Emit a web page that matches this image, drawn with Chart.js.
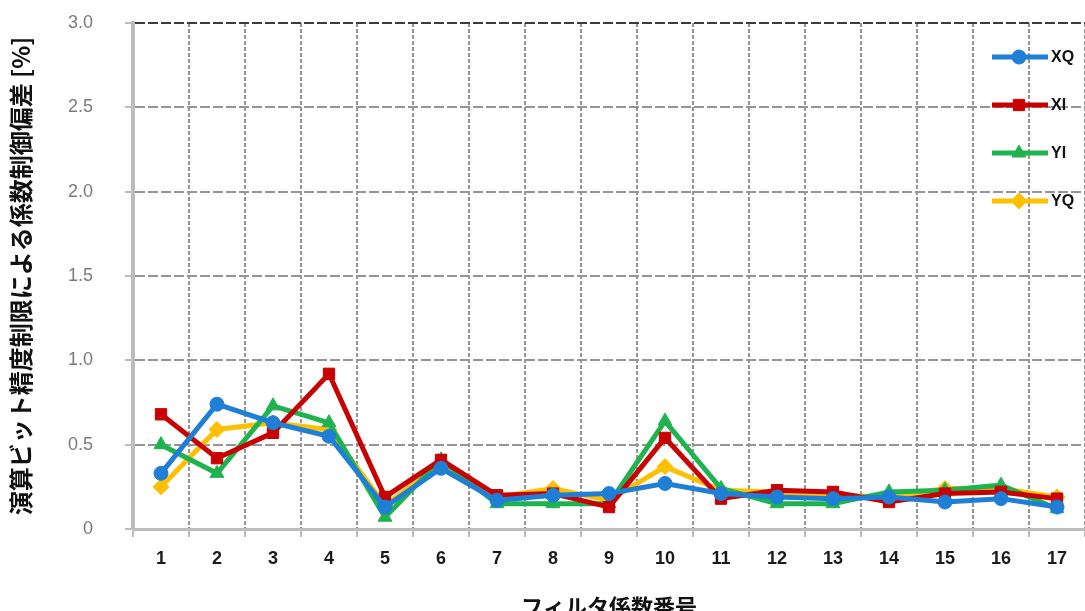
<!DOCTYPE html>
<html>
<head>
<meta charset="utf-8">
<script src="https://cdn.jsdelivr.net/npm/chart.js@4/dist/chart.umd.min.js"></script>
<style>
  html, body { margin: 0; padding: 0; background: #fff; overflow: hidden; }
  #caixa { width: 1085px; height: 620px; }
</style>
</head>
<body>
<div id="caixa"><canvas id="grafico"></canvas></div>
<script>
// rótulos do eixo x (número do coeficiente)
var rotulos = ['1', '2', '3', '4', '5', '6', '7', '8', '9', '10', '11', '12', '13', '14', '15', '16', '17'];

// valores (%)
var dadosXQ = [0.33, 0.74, 0.63, 0.55, 0.13, 0.36, 0.17, 0.20, 0.21, 0.27, 0.21, 0.19, 0.18, 0.19, 0.16, 0.18, 0.13];
var dadosXI = [0.68, 0.42, 0.57, 0.92, 0.19, 0.41, 0.20, 0.21, 0.13, 0.54, 0.18, 0.23, 0.22, 0.16, 0.21, 0.22, 0.18];
var dadosYI = [0.50, 0.33, 0.73, 0.63, 0.07, 0.41, 0.15, 0.15, 0.15, 0.64, 0.24, 0.15, 0.15, 0.22, 0.23, 0.26, 0.12];
var dadosYQ = [0.25, 0.59, 0.63, 0.59, 0.14, 0.39, 0.19, 0.24, 0.17, 0.37, 0.23, 0.22, 0.20, 0.19, 0.24, 0.24, 0.19];

var tituloY = '演算ビット精度制限による係数制御偏差 [%]';
var tituloX = 'フィルタ係数番号';

var fonteJP = '"Noto Sans CJK JP", "Noto Sans", sans-serif';
var fonteNum = '"Liberation Sans", Arial, sans-serif';

function serie(nome, dados, cor, estilo, raio) {
    return {
        label: nome,
        data: dados,
        borderColor: cor,
        backgroundColor: cor,
        borderWidth: 5,
        pointStyle: estilo,
        pointRadius: raio,
        pointHoverRadius: raio,
        pointBorderWidth: 1,
        tension: 0,
        fill: false
    };
}

// legenda desenhada dentro da área do gráfico, no canto superior direito
var legendaInterna = {
    id: 'legendaInterna',
    afterDatasetsDraw: function (chart) {
        var ctx = chart.ctx;
        var area = chart.chartArea;
        var x0 = area.right - 93;
        var y0 = area.top + 34;
        chart.data.datasets.forEach(function (ds, i) {
            var y = y0 + i * 48;
            ctx.save();
            ctx.strokeStyle = ds.borderColor;
            ctx.lineWidth = 5;
            ctx.beginPath();
            ctx.moveTo(x0, y);
            ctx.lineTo(x0 + 56, y);
            ctx.stroke();
            ctx.fillStyle = ds.backgroundColor;
            ctx.strokeStyle = ds.borderColor;
            ctx.lineWidth = 1;
            if (Chart.helpers && Chart.helpers.drawPoint) {
                Chart.helpers.drawPoint(ctx, { pointStyle: ds.pointStyle, radius: ds.pointRadius, rotation: 0, borderWidth: 1 }, x0 + 27, y);
            }
            ctx.fillStyle = '#111';
            ctx.font = 'bold 16px ' + fonteNum;
            ctx.textBaseline = 'middle';
            ctx.textAlign = 'left';
            ctx.fillText(ds.label, x0 + 59, y + 1);
            ctx.restore();
        });
    }
};

var ctx1 = document.getElementById('grafico').getContext('2d');

var grafico = new Chart(ctx1, {
    type: 'line',
    data: {
        labels: rotulos,
        datasets: [
            serie('XQ', dadosXQ, '#1f7fd6', 'circle', 7),
            serie('XI', dadosXI, '#c80000', 'rect', 8),
            serie('YI', dadosYI, '#1fb34f', 'triangle', 8),
            serie('YQ', dadosYQ, '#ffc000', 'rectRot', 8)
        ]
    },
    options: {
        responsive: true,
        maintainAspectRatio: false,
        animation: false,
        layout: { autoPadding: false, padding: { top: 23, right: 0, left: 0, bottom: 0 } },
        plugins: {
            legend: { display: false },
            tooltip: { enabled: false }
        },
        scales: {
            x: {
                offset: true,
                grid: {
                    offset: true,
                    color: '#959595',
                    lineWidth: 2,
                    drawTicks: true,
                    tickLength: 8,
                    tickColor: '#bdbdbd',
                    tickWidth: 2
                },
                border: { color: '#bdbdbd', width: 3, dash: [4, 2] },
                ticks: {
                    color: '#1a1a1a',
                    padding: 11,
                    font: { family: fonteNum, size: 18, weight: 'bold' },
                    maxRotation: 0
                },
                title: {
                    display: true,
                    text: tituloX,
                    color: '#111',
                    padding: { top: 13, bottom: 0 },
                    font: { family: fonteJP, size: 22, weight: 'bold' }
                }
            },
            y: {
                min: 0,
                max: 3,
                afterFit: function (escala) {
                    escala.width = 133;
                    escala.paddingTop = 0;
                    escala.paddingBottom = 0;
                },
                grid: {
                    color: function (c) {
                        if (c.tick.value === 3) return '#3c3c3c';
                        if (c.tick.value === 0) return 'rgba(0,0,0,0)';
                        return '#959595';
                    },
                    lineWidth: 2,
                    tickLength: 8,
                    tickColor: '#bdbdbd',
                    tickWidth: 2
                },
                border: { color: '#bdbdbd', width: 4, dash: [10, 3] },
                ticks: {
                    stepSize: 0.5,
                    color: '#7a7a7a',
                    padding: 32,
                    font: { family: fonteNum, size: 18 },
                    callback: function (v) { return v === 0 ? '0' : v.toFixed(1); }
                },
                title: {
                    display: true,
                    text: tituloY,
                    color: '#111',
                    padding: { top: 6, bottom: 0 },
                    font: { family: fonteJP, size: 24, weight: 'bold' }
                }
            }
        }
    },
    plugins: [legendaInterna]
});
</script>
</body>
</html>
